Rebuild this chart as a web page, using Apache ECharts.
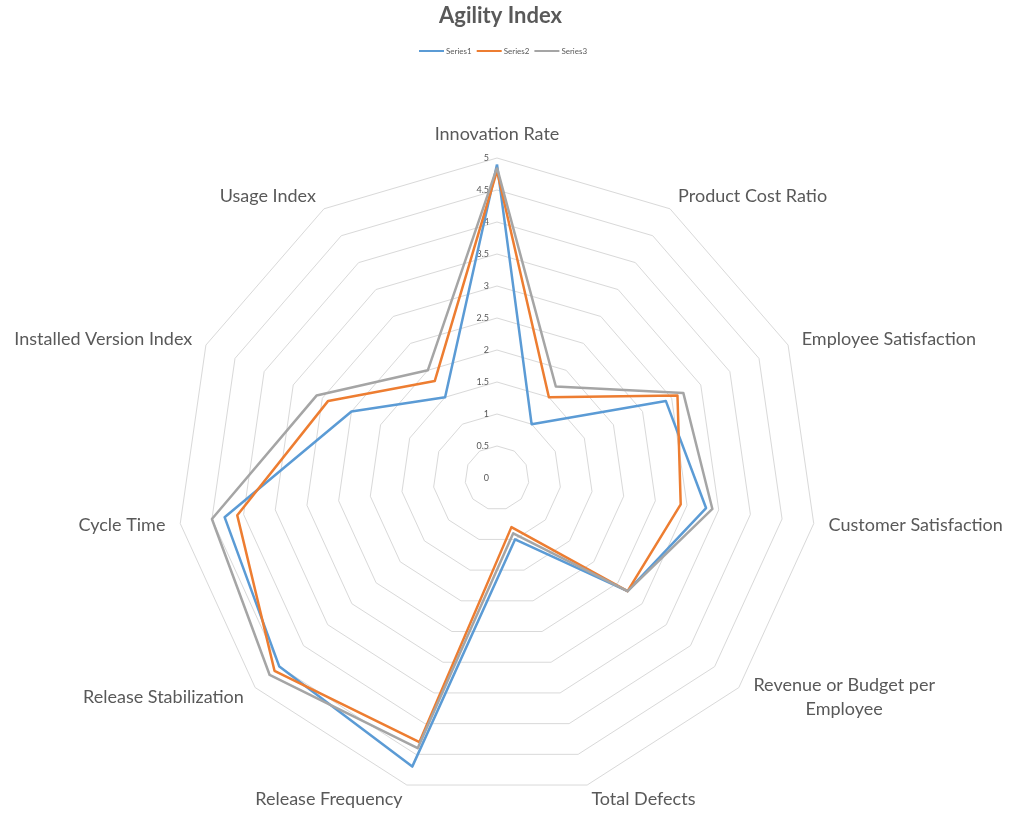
<!DOCTYPE html>
<html>
<head>
<meta charset="utf-8">
<script src="https://cdn.jsdelivr.net/npm/echarts@6/dist/echarts.min.js"></script>
<style>html,body{margin:0;padding:0;background:#fff;}#chart{width:1010px;height:813px;}</style>
</head>
<body>
<div id="chart"></div>
<script>
var indicators = ['Innovation Rate', 'Product Cost Ratio', 'Employee Satisfaction', 'Customer Satisfaction',
  'Revenue or Budget per Employee', 'Total Defects', 'Release Frequency', 'Release Stabilization',
  'Cycle Time', 'Installed Version Index', 'Usage Index'];
var seriesNames = ['Series1', 'Series2', 'Series3'];
var series1 = [4.9, 1.0, 2.9, 3.3, 2.7, 1.0, 4.7, 4.5, 4.3, 2.5, 1.5];
var series2 = [4.8, 1.5, 3.1, 2.9, 2.7, 0.8, 4.3, 4.6, 4.1, 2.9, 1.8];
var series3 = [4.85, 1.7, 3.2, 3.4, 2.7, 0.9, 4.4, 4.7, 4.5, 3.1, 2.0];
var axisMax = 5;
var colors = ['#5B9BD5', '#ED7D31', '#A5A5A5'];

// ECharts draws radar indicators counter-clockwise; reorder so they run clockwise from the top.
function clockwise(arr) {
  return [arr[0]].concat(arr.slice(1).reverse());
}

var chart = echarts.init(document.getElementById('chart'), null, {renderer: 'canvas'});
var font = 'Lato, "Open Sans", sans-serif';
var textColor = '#595959';

var indicatorOpts = clockwise(indicators).map(function (n, i) {
  var o = {name: n, max: axisMax, min: 0};
  if (i === 0) {
    o.axisLabel = {show: true, fontSize: 9, color: textColor, fontFamily: font, margin: 8, align: 'right',
      formatter: function (v) { return String(v); }};
  }
  return o;
});

var option = {
  backgroundColor: '#fff',
  color: colors,
  title: {
    text: 'Agility Index', left: 434, top: 0,
    textStyle: {fontFamily: font, fontSize: 22, fontWeight: 'bold', color: textColor}
  },
  legend: {
    data: seriesNames, top: 42, left: 414, icon: 'rect', itemWidth: 25, itemHeight: 2, itemGap: 5,
    textStyle: {fontFamily: font, fontSize: 8, color: textColor, padding: [0, 0, 0, -3]}
  },
  radar: {
    center: [497, 478], radius: 320, startAngle: 90, splitNumber: 10, shape: 'polygon',
    indicator: indicatorOpts,
    axisName: {
      color: textColor, fontFamily: font, fontSize: 18,
      formatter: function (name) {
        if (name === 'Revenue or Budget per Employee') {
          return '{w|Revenue or Budget per}\n{w|Employee}';
        }
        return name;
      },
      rich: {w: {width: 188, align: 'center', fontSize: 18, lineHeight: 24, color: textColor, fontFamily: font}}
    },
    nameGap: 15,
    axisLine: {show: false},
    axisTick: {show: false},
    axisLabel: {show: false},
    splitLine: {lineStyle: {color: '#D9D9D9', width: 1}},
    splitArea: {show: false}
  },
  series: [{
    type: 'radar',
    symbol: 'none',
    data: [
      {name: seriesNames[0], value: clockwise(series1), lineStyle: {color: colors[0], width: 2.5}, itemStyle: {color: colors[0]}},
      {name: seriesNames[1], value: clockwise(series2), lineStyle: {color: colors[1], width: 2.5}, itemStyle: {color: colors[1]}},
      {name: seriesNames[2], value: clockwise(series3), lineStyle: {color: colors[2], width: 2.5}, itemStyle: {color: colors[2]}}
    ]
  }]
};
chart.setOption(option);
</script>
</body>
</html>
